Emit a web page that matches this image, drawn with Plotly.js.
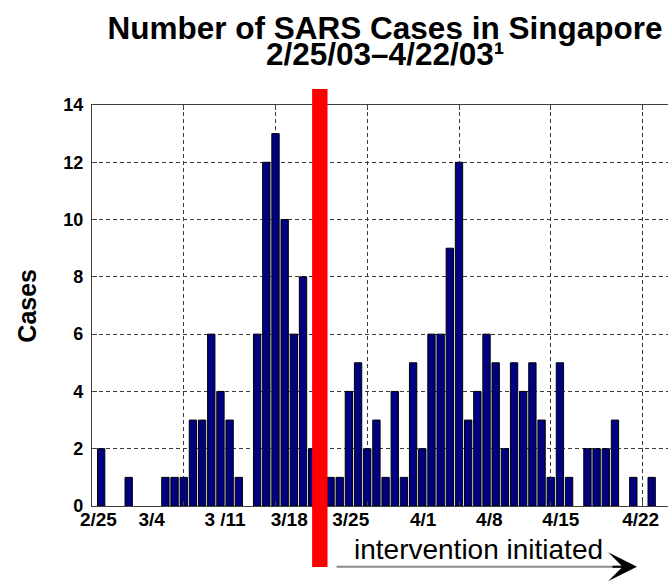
<!DOCTYPE html>
<html>
<head>
<meta charset="utf-8">
<script src="https://cdn.plot.ly/plotly-3.0.1.min.js"></script>
<style>html,body{margin:0;padding:0;background:#fff;}#chart{width:668px;height:581px;}</style>
</head>
<body>
<div id="chart"></div>
<script>
// Day index (1 = 2/25/03) and daily SARS case counts
const dayIndex = [1,2,3,4,5,6,7,8,9,10,11,12,13,14,15,16,17,18,19,20,21,22,23,24,25,26,27,28,29,30,31,32,33,34,35,36,37,38,39,40,41,42,43,44,45,46,47,48,49,50,51,52,53,54,55,56,57,58,59,60,61];
const cases    = [2,0,0,1,0,0,0,1,1,1,3,3,6,4,3,1,0,6,12,13,10,6,8,2,null,1,1,4,5,2,3,1,4,1,5,2,6,6,9,12,3,4,6,5,2,5,4,5,3,1,5,1,0,2,2,2,3,0,1,0,1];

// Hand-placed date labels (as in the original slide) and their positions on the day axis
const dateLabels    = ["2/25","3/4","3 /11","3/18","3/25","4/1","4/8","4/15","4/22"];
const dateLabelPos  = [0.7,6.5,14.5,21.5,28.2,36.1,43.3,51.1,59.8];

// Grid ticks
const xGridTicks = [0,10,20,30,40,50,60];
const yTicks = [0,2,4,6,8,10,12,14];

const titleLine1 = "Number of SARS Cases in Singapore";
const titleLine2 = "2/25/03\u20134/22/03\u00B9";
const yTitle = "Cases";
const interventionText = "intervention initiated";

const FONT = "Liberation Sans, Arial, Helvetica, sans-serif";
const xRange = [0, 62.78];

const trace = {
  type: "bar",
  x: dayIndex,
  y: cases,
  width: 0.8,
  marker: {color: "#000080", line: {color: "#000000", width: cases.map(v => v ? 1 : 0)}},
  hoverinfo: "x+y",
  showlegend: false
};

// invisible trace to carry the date-label axis
const labelTrace = {
  type: "scatter", mode: "markers",
  x: dateLabelPos, y: dateLabelPos.map(() => null),
  xaxis: "x2", yaxis: "y", showlegend: false, hoverinfo: "skip"
};

const layout = {
  width: 668, height: 581,
  margin: {l: 92.3, r: 0, t: 105, b: 75, pad: 0},
  paper_bgcolor: "#ffffff", plot_bgcolor: "#ffffff",
  font: {family: FONT, color: "#000"},
  bargap: 0,
  title: {
    text: "<b>" + titleLine1 + "</b>",
    font: {family: FONT, size: 31.5, color: "#000"},
    x: 385/668, xref: "container", xanchor: "center",
    y: 1 - 28/581, yref: "container", yanchor: "middle"
  },
  xaxis: {
    range: xRange, tickvals: xGridTicks, showticklabels: false,
    showgrid: true, gridcolor: "#3a3a3a", gridwidth: 1, griddash: "4px,3px",
    zeroline: false, showline: true, linecolor: "#404040", linewidth: 1.2,
    mirror: "ticks", ticks: "inside", ticklen: 5, tickcolor: "#404040",
    fixedrange: true
  },
  xaxis2: {
    overlaying: "x", anchor: "y", side: "bottom", range: xRange,
    tickmode: "array", tickvals: dateLabelPos, ticktext: dateLabels,
    showgrid: false, zeroline: false, showline: false, ticks: "",
    tickfont: {family: FONT, size: 19, color: "#000", weight: "bold"},
    ticklabelstandoff: 0, fixedrange: true
  },
  yaxis: {
    range: [0, 14], tickvals: yTicks, ticktext: yTicks.map(String),
    showgrid: true, gridcolor: "#3a3a3a", gridwidth: 1, griddash: "4px,3px",
    zeroline: false, showline: true, linecolor: "#404040", linewidth: 1.2,
    ticks: "inside", ticklen: 5, tickcolor: "#404040",
    tickfont: {family: FONT, size: 18, color: "#000", weight: "bold"},
    ticklabelstandoff: 4, fixedrange: true
  },
  shapes: [
    {type: "rect", xref: "paper", yref: "paper", layer: "above",
     x0: (312.3-92.3)/575.7, x1: (327.7-92.3)/575.7,
     y0: (506-567)/401, y1: (506-89)/401,
     fillcolor: "#ff0000", line: {width: 0}},
    {type: "line", xref: "paper", yref: "paper", layer: "above",
     x0: (336.7-92.3)/575.7, x1: (622-92.3)/575.7,
     y0: (506-566.7)/401, y1: (506-566.7)/401,
     line: {color: "#8a8a8a", width: 2}}
  ],
  annotations: [
    {text: "<b>" + titleLine2 + "</b>", xref: "paper", yref: "paper",
     x: (385-92.3)/575.7, y: (506-54)/401, xanchor: "center", yanchor: "middle",
     showarrow: false, font: {family: FONT, size: 31.5, color: "#000"}},
    {text: "<b>" + yTitle + "</b>", xref: "paper", yref: "paper",
     x: (27-92.3)/575.7, y: (506-306)/401, xanchor: "center", yanchor: "middle",
     textangle: -90, showarrow: false, font: {family: FONT, size: 25, color: "#000"}},
    {text: interventionText, xref: "paper", yref: "paper",
     x: (478.7-92.3)/575.7, y: (506-549)/401, xanchor: "center", yanchor: "middle",
     showarrow: false, font: {family: FONT, size: 28, color: "#000"}},
    {text: "", xref: "paper", yref: "paper",
     x: (637-92.3)/575.7, y: (506-566.7)/401,
     showarrow: true, axref: "pixel", ayref: "pixel", ax: -26, ay: 0,
     arrowhead: 3, arrowsize: 2.4, arrowwidth: 2, arrowcolor: "#000", standoff: 0}
  ]
};

Plotly.newPlot("chart", [trace, labelTrace], layout, {displayModeBar: false, staticPlot: true});
</script>
</body>
</html>
